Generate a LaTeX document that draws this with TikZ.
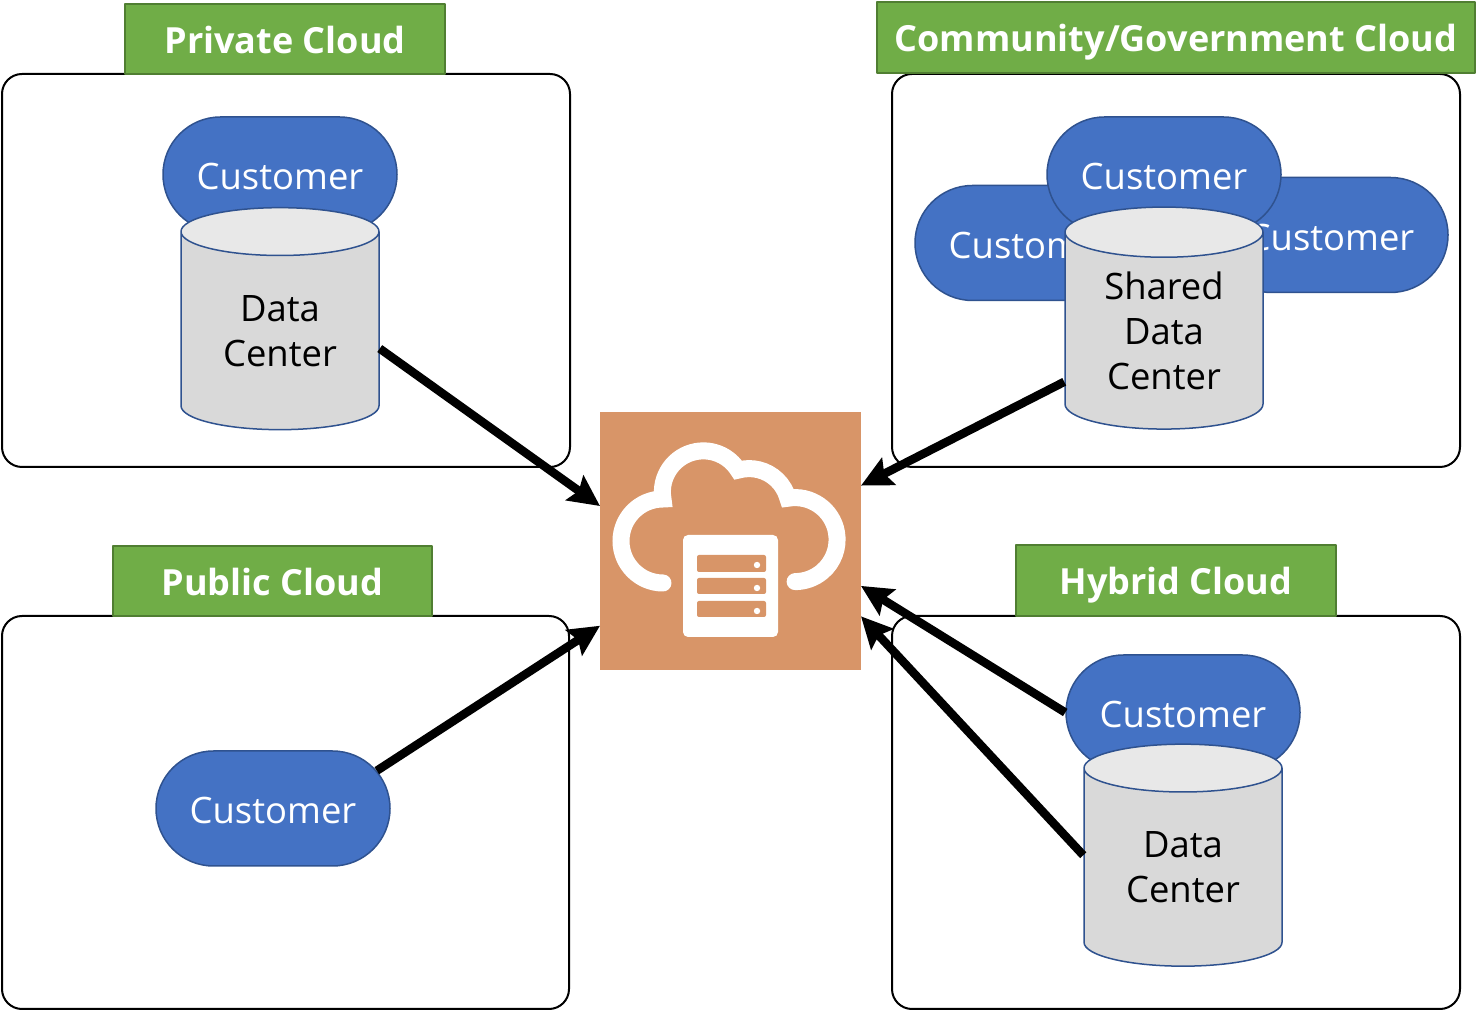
\documentclass[tikz,border=0pt]{standalone}
\usepackage{fontspec}
\setmainfont{Open Sans}
\usetikzlibrary{arrows.meta,shapes.geometric,shapes.misc}
\definecolor{custcol}{HTML}{4472C4}
\definecolor{edgecol}{HTML}{2F528F}
\definecolor{labelcol}{HTML}{70AD47}
\definecolor{labeledge}{HTML}{507E32}
\definecolor{hubcol}{HTML}{D89568}
\tikzset{
  panel/.style={draw=black,line width=2bp,rectangle,rounded corners=20bp,fill=white},
  cloudlabel/.style={draw=labeledge,line width=1.5bp,rectangle,fill=labelcol,text=white,font=\fontsize{36bp}{44bp}\selectfont\bfseries,inner sep=0pt,text height=36bp,text depth=7bp},
  customer/.style={draw=edgecol,line width=1.5bp,rounded rectangle,fill=custcol,text=white,minimum width=234bp,minimum height=115bp,inner sep=0pt,font=\fontsize{36.4bp}{45bp}\selectfont,text height=31bp,text depth=0bp},
  datacenter/.style={draw=edgecol,line width=1.5bp,cylinder,shape border rotate=90,shape aspect=0.42,cylinder uses custom fill,cylinder body fill=black!15,cylinder end fill=black!9,minimum width=198bp,minimum height=222bp,inner sep=0pt,align=center,font=\fontsize{36.4bp}{45bp}\selectfont},
  link/.style={->,line width=8.5bp,black},
  iconline/.style={draw=white,line width=17bp,line cap=round,line join=miter},
}
\begin{document}
\begin{tikzpicture}[>={Stealth[length=31bp,width=30bp,inset=5bp]},line join=bevel]
\useasboundingbox (0bp,0bp) rectangle (1481bp,1010bp);
%%
  \node (PrivPanel) at (286bp,739.5bp) [panel,minimum width=568bp,minimum height=393bp] {};
  \node (CommPanel) at (1176bp,739.5bp) [panel,minimum width=568bp,minimum height=393bp] {};
  \node (PubPanel) at (285.5bp,197.5bp) [panel,minimum width=567bp,minimum height=393bp] {};
  \node (HybPanel) at (1176bp,197.5bp) [panel,minimum width=568bp,minimum height=393bp] {};
  \node (PrivLabel) at (285bp,971bp) [cloudlabel,minimum width=320bp,minimum height=70bp] {Private Cloud};
  \node (CommLabel) at (1176bp,972.5bp) [cloudlabel,minimum width=598bp,minimum height=71bp] {Community/Government Cloud};
  \node (PubLabel) at (272.5bp,429bp) [cloudlabel,minimum width=319bp,minimum height=70bp] {Public Cloud};
  \node (HybLabel) at (1176bp,429.5bp) [cloudlabel,minimum width=320bp,minimum height=71bp] {Hybrid Cloud};
%
  \node (PrivCust) at (280bp,835.5bp) [customer] {Customer};
  \node (CommCustL) at (1032bp,767bp) [customer] {Customer};
  \node (CommCustR) at (1331bp,775bp) [customer] {Customer};
  \node (CommCust) at (1164bp,835.5bp) [customer] {Customer};
  \node (PubCust) at (273bp,201.5bp) [customer] {Customer};
  \node (HybCust) at (1183bp,297.5bp) [customer] {Customer};
  \node (PrivDC) at (280bp,679bp) [datacenter] {Data\\Center};
  \node (CommDC) at (1164bp,679bp) [datacenter] {Shared\\Data\\Center};
  \node (HybDC) at (1183bp,142.5bp) [datacenter] {Data\\Center};
%
  \node (Hub) at (730.5bp,469bp) [rectangle,fill=hubcol,minimum width=261bp,minimum height=258bp,outer sep=0pt] {};
  \draw [iconline] (663bp,427bp) arc [start angle=270,end angle=90,radius=42bp]
    arc [start angle=190,end angle=32,radius=41bp]
    arc [start angle=106,end angle=15,radius=40bp]
    arc [start angle=100,end angle=-90,radius=42bp];
  \fill [white,rounded corners=5bp] (683bp,373bp) rectangle (778bp,475bp);
  \fill [hubcol,rounded corners=2bp] (697bp,438bp) rectangle (766bp,455bp);
  \fill [hubcol,rounded corners=2bp] (697bp,416bp) rectangle (766bp,432bp);
  \fill [hubcol,rounded corners=2bp] (697bp,393bp) rectangle (766bp,409bp);
  \fill [white] (757bp,445bp) circle (3.2bp);
  \fill [white] (757bp,422bp) circle (3.2bp);
  \fill [white] (757bp,399bp) circle (3.2bp);
%
  \draw [link] (PrivDC.-10) -- (Hub.165);
  \draw [link] (CommDC.207) -- (Hub.23);
  \draw [link] (PubCust.20) -- (Hub.213);
  \draw [link] (HybCust.west) -- (Hub.-19);
  \draw [link] (HybDC.173) -- (Hub.-30);
%
\end{tikzpicture}
\end{document}
